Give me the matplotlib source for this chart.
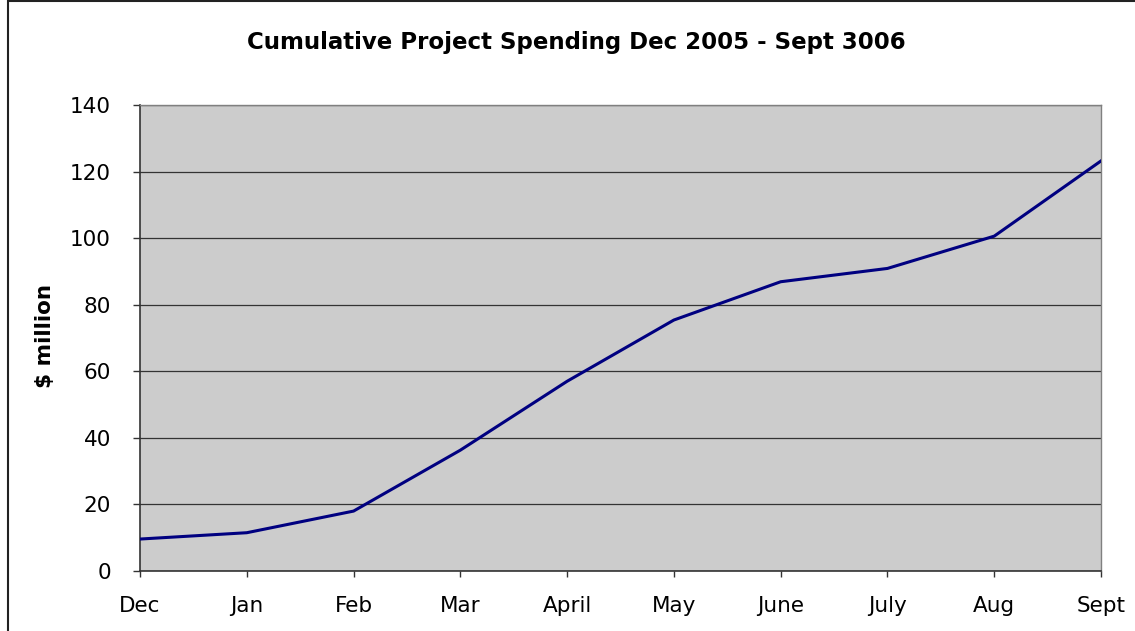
import matplotlib
matplotlib.use("Agg")
import matplotlib.pyplot as plt
from matplotlib.patches import Rectangle

months = ["Dec", "Jan", "Feb", "Mar", "April", "May", "June", "July", "Aug", "Sept"]
spending = [9.6, 11.5, 18.0, 36.3, 57.0, 75.4, 86.9, 90.9, 100.6, 123.2]
yticks = [0, 20, 40, 60, 80, 100, 120, 140]

plt.rcParams['font.family'] = ['DejaVu Sans']
fig = plt.figure(figsize=(11.35, 6.31), dpi=100)
fig.patch.set_facecolor('white')
ax = fig.add_axes([140/1135, 60/631, 961/1135, 466/631])
ax.set_facecolor('#CCCCCC')

x = list(range(len(months)))
ax.plot(x, spending, color='#000080', lw=2.2, solid_joinstyle='miter', zorder=3)

ax.set_xlim(0, len(months) - 1)
ax.set_ylim(0, 140)
ax.set_yticks(yticks)
ax.set_xticks(x)
ax.set_xticklabels(months)
ax.yaxis.grid(True, color='#333333', lw=0.9)
ax.set_axisbelow(True)
ax.tick_params(axis='both', labelsize=15.5, width=1, color='#333333', direction='out')
ax.tick_params(axis='x', length=4, pad=14)
ax.tick_params(axis='y', length=5, pad=16)
for s in ['left', 'bottom']:
    ax.spines[s].set_color('#333333')
    ax.spines[s].set_linewidth(1.2)
for s in ['top', 'right']:
    ax.spines[s].set_color('#808080')
    ax.spines[s].set_linewidth(1.0)

fig.text(45/1135, 1 - 336/631, '$ million', rotation=90, ha='center', va='center',
         fontsize=15.5, fontweight='bold')
fig.text(576/1135, 1 - 42/631, 'Cumulative Project Spending Dec 2005 - Sept 3006',
         ha='center', va='center', fontsize=16.5, fontweight='bold')

fig.patches.append(Rectangle((8/1135, -0.01), 1.0, 1 - 1/631 + 0.01, transform=fig.transFigure,
                             fill=False, edgecolor='#222222', lw=1.5))

fig.savefig('out.png', dpi=100)
